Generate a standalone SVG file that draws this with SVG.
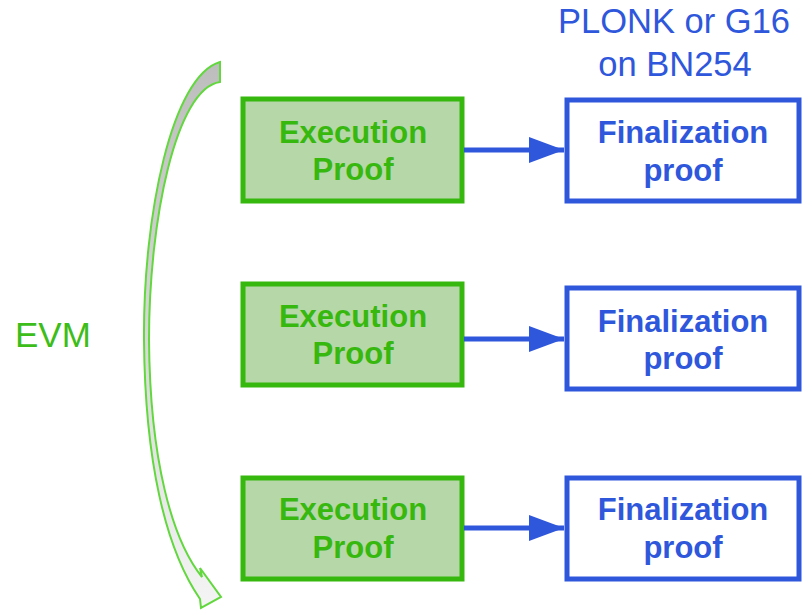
<svg xmlns="http://www.w3.org/2000/svg" width="802" height="611" viewBox="0 0 802 611">
  <defs>
    <linearGradient id="bendFill" x1="0" y1="0" x2="0" y2="1">
      <stop offset="0" stop-color="#bdbdbd"/>
      <stop offset="1" stop-color="#f4f4f4"/>
    </linearGradient>
    <marker id="head" viewBox="0 0 35 26" refX="35" refY="13" markerWidth="7" markerHeight="5.2" markerUnits="strokeWidth" orient="auto">
      <path d="M0,0 L35,13 L0,26 Z" fill="#2f57dc"/>
    </marker>
    <style>
      .exec rect { fill: #b6d7a8; stroke: #36b80e; stroke-width: 5; }
      .exec text { fill: #36b80e; }
      .fin rect { fill: #ffffff; stroke: #2f57dc; stroke-width: 5; }
      .fin text { fill: #2f57dc; }
      .lbl { font-family: "Liberation Sans", Arial, sans-serif; font-weight: bold; font-size: 31px; text-anchor: middle; }
      .note { font-family: "Liberation Sans", Arial, sans-serif; font-size: 34.5px; fill: #2f57dc; text-anchor: middle; }
      .conn line { stroke: #2f57dc; stroke-width: 5; fill: none; }
    </style>
  </defs>

  <rect width="802" height="611" fill="#ffffff"/>

  <!-- curved EVM arrow -->
  <g id="evm-flow">
    <path d="M220,62 C172,76 143,215 144,340 C145,460 165,548 200,599 L201,608 L221,597 L200,568 L202,577 C172,540 150,460 149,340 C149,220 176,88 220,82 Z"
          fill="url(#bendFill)" stroke="#62d83e" stroke-width="2" stroke-linejoin="miter"/>
  </g>

  <g id="evm-label">
    <text x="15" y="347" font-family="Liberation Sans, Arial, sans-serif" font-size="35" fill="#3dbd1a">EVM</text>
  </g>

  <g id="curve-note">
    <text class="note" x="674" y="33">PLONK or G16</text>
    <text class="note" x="675" y="76">on BN254</text>
  </g>

  <!-- execution proofs -->
  <g id="exec1" class="exec">
    <rect x="243" y="99" width="219" height="102"/>
    <text class="lbl" x="353" y="143">Execution</text>
    <text class="lbl" x="353" y="180">Proof</text>
  </g>
  <g id="exec2" class="exec">
    <rect x="243" y="284" width="219" height="101"/>
    <text class="lbl" x="353" y="327">Execution</text>
    <text class="lbl" x="353" y="364">Proof</text>
  </g>
  <g id="exec3" class="exec">
    <rect x="243" y="478" width="219" height="101"/>
    <text class="lbl" x="353" y="520">Execution</text>
    <text class="lbl" x="353" y="558">Proof</text>
  </g>

  <!-- finalization proofs -->
  <g id="fin1" class="fin">
    <rect x="567" y="100" width="232" height="101"/>
    <text class="lbl" x="683" y="143">Finalization</text>
    <text class="lbl" x="683" y="181">proof</text>
  </g>
  <g id="fin2" class="fin">
    <rect x="567" y="288" width="232" height="101"/>
    <text class="lbl" x="683" y="332">Finalization</text>
    <text class="lbl" x="683" y="369">proof</text>
  </g>
  <g id="fin3" class="fin">
    <rect x="567" y="478" width="232" height="101"/>
    <text class="lbl" x="683" y="520">Finalization</text>
    <text class="lbl" x="683" y="558">proof</text>
  </g>

  <!-- connectors -->
  <g id="connectors" class="conn">
    <line x1="464" y1="150" x2="564" y2="150" marker-end="url(#head)"/>
    <line x1="464" y1="339" x2="564" y2="339" marker-end="url(#head)"/>
    <line x1="464" y1="528" x2="564" y2="528" marker-end="url(#head)"/>
  </g>
</svg>
